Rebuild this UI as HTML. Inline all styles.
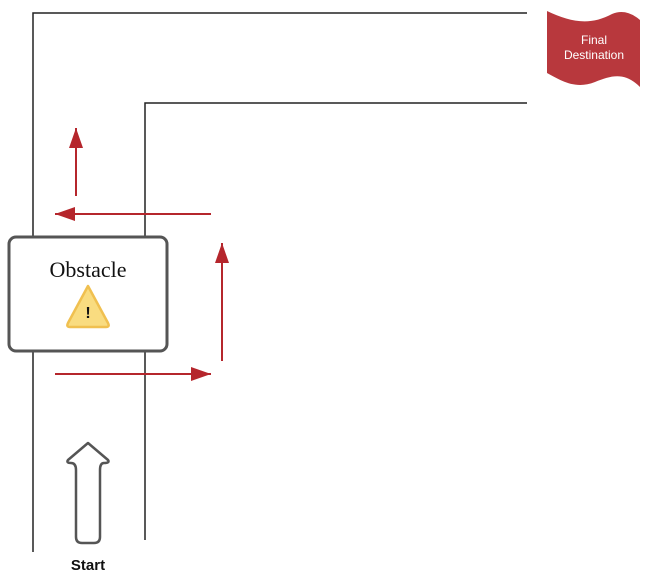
<!DOCTYPE html>
<html><head><meta charset="utf-8"><style>
html,body{margin:0;padding:0;background:#fff;width:650px;height:574px;overflow:hidden}
</style></head><body>
<svg width="650" height="574" viewBox="0 0 650 574" xmlns="http://www.w3.org/2000/svg">
<defs><marker id="ah" markerWidth="10" markerHeight="10" refX="9" refY="5" orient="auto" markerUnits="userSpaceOnUse"><path d="M0,0 L10,5 L0,10" fill="#b5262c" transform="scale(1)"/></marker>
<marker id="ah2" viewBox="0 0 20 14" markerWidth="20" markerHeight="14" refX="20" refY="7" orient="auto" markerUnits="userSpaceOnUse"><path d="M0,0 L20,7 L0,14 Z" fill="#b5262c"/></marker></defs>
<g fill="none" stroke="#222" stroke-width="1.5">
<polyline points="33,552 33,13 527,13"/></g>
<g fill="none" stroke="#222" stroke-width="1.5">
<polyline points="145,540 145,103 527,103"/></g>
<g>
<rect x="9" y="237" width="158" height="114" rx="7" fill="#fff" stroke="#555" stroke-width="3"/>
<text x="88" y="277" text-anchor="middle" font-family="Liberation Serif, serif" font-size="22" fill="#111">Obstacle</text>
<path d="M88,286 L108,323 Q110,327 106,327 L70,327 Q66,327 68,323 Z" fill="#f9dc80" stroke="#f0c050" stroke-width="2.5" stroke-linejoin="round"/>
<text x="88" y="318" text-anchor="middle" font-family="Liberation Sans, sans-serif" font-weight="bold" font-size="16" fill="#111">!</text>
</g>
<g stroke="#b5262c" stroke-width="2" fill="none">
<line x1="55" y1="374" x2="211" y2="374" marker-end="url(#ah2)"/>
<line x1="222" y1="361" x2="222" y2="243" marker-end="url(#ah2)"/>
<line x1="211" y1="214" x2="55" y2="214" marker-end="url(#ah2)"/>
<line x1="76" y1="196" x2="76" y2="128" marker-end="url(#ah2)"/>
</g>
<g>
<path d="M547,11 C570,22 590,26 612,14 Q626,8 640,20 L640,87 C625,72 612,75 595,82 C575,90 560,80 547,73 Z" fill="#b8383d"/>
<text x="594" y="44" text-anchor="middle" font-family="Liberation Sans, sans-serif" font-size="12" fill="#fff">Final</text>
<text x="594" y="59" text-anchor="middle" font-family="Liberation Sans, sans-serif" font-size="12" fill="#fff">Destination</text>
</g>
<path d="M88,443 L108,460 Q110,463 104,463 Q100,463 100,470 L100,537 Q100,543 94,543 L82,543 Q76,543 76,537 L76,470 Q76,463 71,463 Q66,463 68,460 Z" fill="#fff" stroke="#555" stroke-width="2.5" stroke-linejoin="round"/>
<text x="88" y="570" text-anchor="middle" font-family="Liberation Sans, sans-serif" font-weight="bold" font-size="15" fill="#111">Start</text>
</svg>
</body></html>
